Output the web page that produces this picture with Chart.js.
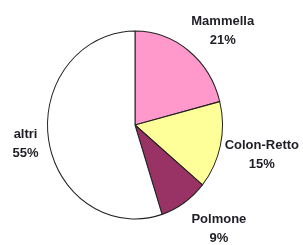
<!DOCTYPE html>
<html>
<head>
<meta charset="utf-8">
<script src="https://cdn.jsdelivr.net/npm/chart.js@4.4.0/dist/chart.umd.min.js"></script>
<style>
  html, body { margin: 0; padding: 0; background: #fff; }
  #wrap { width: 303px; height: 245px; }
</style>
</head>
<body>
<div id="wrap"><canvas id="chart-tumori"></canvas></div>
<script>
  const labels = ['Mammella', 'Colon-Retto', 'Polmone', 'altri'];
  const values = [21, 15, 9, 55];
  const sliceColors = ['#ff99cc', '#ffff99', '#993366', '#ffffff'];
  // label placement: distance as share of radius, and a small turn (degrees) off the slice middle
  const labelDist = [1.47, 1.49, 1.53, 1.27];
  const labelTurn = [5.2, 0.8, -4.6, -1.0];
  // the original pie is a little taller than wide
  const stretchY = 1.074;

  function pieCenter(chart) {
    const arc = chart.getDatasetMeta(0).data[0];
    return arc.getProps(['x', 'y', 'outerRadius'], true);
  }

  const stretchPie = {
    id: 'stretchPie',
    beforeDatasetsDraw(chart) {
      const c = pieCenter(chart);
      const ctx = chart.ctx;
      ctx.save();
      ctx.translate(c.x, c.y);
      ctx.scale(1, stretchY);
      ctx.translate(-c.x, -c.y);
    },
    afterDatasetsDraw(chart) {
      chart.ctx.restore();
    }
  };

  const outsideLabels = {
    id: 'outsideLabels',
    afterDraw(chart) {
      const ctx = chart.ctx;
      const meta = chart.getDatasetMeta(0);
      ctx.save();
      ctx.font = 'bold 13px "Liberation Sans", Arial, sans-serif';
      ctx.fillStyle = '#1e1e26';
      ctx.textAlign = 'center';
      ctx.textBaseline = 'middle';
      meta.data.forEach((arc, i) => {
        const p = arc.getProps(['x', 'y', 'startAngle', 'endAngle', 'outerRadius'], true);
        const mid = (p.startAngle + p.endAngle) / 2 + labelTurn[i] * Math.PI / 180;
        const d = p.outerRadius * labelDist[i];
        const x = p.x + Math.cos(mid) * d;
        const y = p.y + Math.sin(mid) * d;
        ctx.fillText(labels[i], x, y - 9.5);
        ctx.fillText(values[i] + '%', x, y + 9.5);
      });
      ctx.restore();
    }
  };

  const ctx = document.getElementById('chart-tumori').getContext('2d');
  const myPieChart = new Chart(ctx, {
    type: 'pie',
    data: {
      labels: labels,
      datasets: [
        {
          data: values,
          backgroundColor: sliceColors,
          borderColor: '#222222',
          borderWidth: 1,
        },
      ],
    },
    options: {
      responsive: true,
      maintainAspectRatio: false,
      animation: false,
      layout: {
        padding: { left: 47, right: 80, top: 37, bottom: 32 },
      },
      plugins: {
        legend: { display: false },
        tooltip: { enabled: false },
      },
    },
    plugins: [stretchPie, outsideLabels],
  });
</script>
</body>
</html>
